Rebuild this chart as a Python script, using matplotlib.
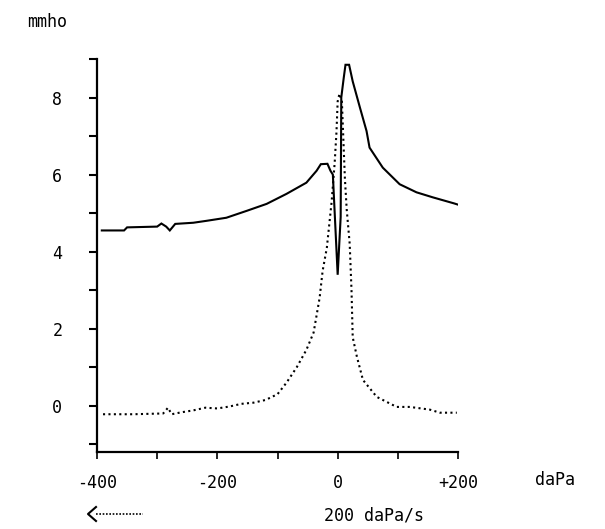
import matplotlib
matplotlib.use("Agg")
import matplotlib.pyplot as plt
from matplotlib.lines import Line2D

# admittance trace (solid), daPa vs mmho
solid_p = [-392, -355, -350, -300, -293, -285, -279, -270, -240, -218, -185, -151,
           -118, -85, -52, -35, -28, -17, -12, -8, 0, 5, 6, 10, 13, 19, 25, 37,
           48, 53, 75, 103, 131, 158, 194, 200]
solid_y = [4.55, 4.55, 4.63, 4.65, 4.73, 4.65, 4.55, 4.72, 4.75, 4.8, 4.88, 5.06,
           5.24, 5.5, 5.79, 6.1, 6.27, 6.28, 6.1, 6.0, 3.4, 4.9, 8.0, 8.5, 8.85, 8.85,
           8.42, 7.74, 7.13, 6.7, 6.18, 5.75, 5.54, 5.41, 5.25, 5.22]

# compensated trace (dotted)
dot_p = [-390, -340, -290, -282, -276, -260, -240, -220, -200, -180, -160, -140,
         -120, -100, -85, -68, -52, -40, -30, -25, -18, -10, -5, -2, 0, 3, 7,
         12, 15, 20, 23, 25, 32, 42, 65, 98, 120, 153, 170, 198]
dot_y = [-0.22, -0.22, -0.2, -0.05, -0.22, -0.17, -0.12, -0.05, -0.07, -0.02, 0.05, 0.08,
         0.15, 0.3, 0.6, 1.0, 1.45, 1.9, 2.8, 3.5, 4.1, 5.3, 6.3, 7.1, 7.9, 8.1, 7.9,
         5.9, 5.1, 4.2, 3.0, 1.78, 1.27, 0.67, 0.23, -0.03, -0.03, -0.1, -0.18, -0.18]

x_major = [-400, -200, 0, 200]
x_labels = ["-400", "-200", "0", "+200"]
x_minor = [-300, -100, 100]
y_major = [0, 2, 4, 6, 8]
y_minor = [-1, 1, 3, 5, 7, 9]

W, H = 605, 529
fig = plt.figure(figsize=(W / 100, H / 100), dpi=100)
ax = fig.add_axes([97 / W, 77 / H, (458 - 97) / W, (452 - 59) / H])

font = "DejaVu Sans Mono"
fs = 12

ax.plot(solid_p, solid_y, color="black", lw=1.5, solid_joinstyle="miter")
ax.plot(dot_p, dot_y, color="black", lw=1.5, linestyle=(0, (1, 1.6)))

ax.set_xlim(-400, 200)
ax.set_ylim(-1.2, 8.95)

for s in ["top", "right"]:
    ax.spines[s].set_visible(False)
for s in ["left", "bottom"]:
    ax.spines[s].set_linewidth(1.6)

ax.set_xticks(x_major)
ax.set_xticklabels(x_labels, fontfamily=font, fontsize=fs)
ax.set_xticks(x_minor, minor=True)
ax.set_yticks(y_major)
ax.set_yticklabels([str(v) for v in y_major], fontfamily=font, fontsize=fs)
ax.set_yticks(y_minor, minor=True)
ax.tick_params(axis="x", which="both", direction="out", length=5, width=1.2, pad=11)
ax.tick_params(axis="y", which="both", direction="out", length=6, width=1.5, pad=19)

fig.text(555 / W, 1 - 480 / H, "daPa", fontfamily=font, fontsize=fs, ha="center", va="center")
fig.text(47 / W, 1 - 22 / H, "mmho", fontfamily=font, fontsize=fs, ha="center", va="center")
fig.text(374 / W, 1 - 516 / H, "200 daPa/s", fontfamily=font, fontsize=fs, ha="center", va="center")

# scan direction arrow
fig.add_artist(Line2D([96 / W, 143 / W], [1 - 514 / H, 1 - 514 / H],
                      color="black", lw=1.2, linestyle=(0, (1, 1))))
fig.add_artist(Line2D([96 / W, 88 / W, 96 / W],
                      [1 - 507 / H, 1 - 514 / H, 1 - 521 / H], color="black", lw=1.5))

fig.savefig("out.png", dpi=100, facecolor="white")
